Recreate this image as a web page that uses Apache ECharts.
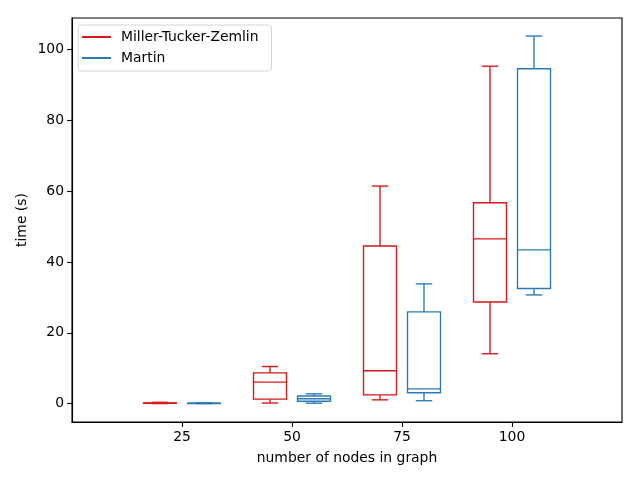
<!DOCTYPE html>
<html>
<head>
<meta charset="utf-8">
<script src="https://cdn.jsdelivr.net/npm/echarts@6/dist/echarts.min.js"></script>
<style>
html,body{margin:0;padding:0;background:#fff;}
#chart{width:640px;height:480px;}
</style>
</head>
<body>
<div id="chart"></div>
<script>
// ---- data ----
const categories = [25, 50, 75, 100];
const seriesNames = ['Miller-Tucker-Zemlin', 'Martin'];
// [lower whisker, Q1, median, Q3, upper whisker]
const mtzStats = [
  [0.05, 0.1, 0.15, 0.25, 0.4],
  [0.2, 1.3, 6.1, 8.7, 10.5],
  [1.1, 2.5, 9.3, 44.5, 61.4],
  [14.1, 28.7, 46.5, 56.7, 95.2]
];
const martinStats = [
  [0.04, 0.08, 0.12, 0.18, 0.3],
  [0.15, 0.7, 1.4, 2.2, 2.8],
  [0.85, 3.1, 4.2, 25.9, 33.8],
  [30.7, 32.5, 43.4, 94.5, 103.7]
];
const xTicks = [25, 50, 75, 100];
const yTicks = [0, 20, 40, 60, 80, 100];

// ---- style ----
const colors = ['#D7191C', '#2C7BB6'];
const offsets = [-5, 5];
const boxWidth = 7.5;
const FONT = 'DejaVu Sans';
const FS = 13.9;

function buildData(stats, offset) {
  return categories.map((c, i) => [c + offset].concat(stats[i]));
}

function renderBox(params, api) {
  const x = api.value(0);
  const pLo = api.coord([x, api.value(1)]);
  const pQ1 = api.coord([x, api.value(2)]);
  const pMed = api.coord([x, api.value(3)]);
  const pQ3 = api.coord([x, api.value(4)]);
  const pHi = api.coord([x, api.value(5)]);
  const halfW = api.size([boxWidth, 0])[0] / 2;
  const capHalf = halfW / 2;
  const cx = pLo[0];
  const color = api.visual('color');
  const style = { stroke: color, fill: null, lineWidth: 1.39 };
  const line = (x1, y1, x2, y2) => ({ type: 'line', shape: { x1, y1, x2, y2 }, style });
  return {
    type: 'group',
    children: [
      line(cx, pQ3[1], cx, pHi[1]),
      line(cx, pQ1[1], cx, pLo[1]),
      line(cx - capHalf, pHi[1], cx + capHalf, pHi[1]),
      line(cx - capHalf, pLo[1], cx + capHalf, pLo[1]),
      { type: 'rect', shape: { x: cx - halfW, y: pQ3[1], width: 2 * halfW, height: pQ1[1] - pQ3[1] }, style },
      line(cx - halfW, pMed[1], cx + halfW, pMed[1])
    ]
  };
}

const chart = echarts.init(document.getElementById('chart'), null, { renderer: 'canvas' });
const option = {
  animation: false,
  backgroundColor: '#fff',
  textStyle: { fontFamily: FONT },
  grid: { left: 72, right: 18, top: 18, bottom: 58, show: true, borderColor: '#000', borderWidth: 1.1, backgroundColor: 'transparent' },
  legend: {
    orient: 'vertical',
    left: 78,
    top: 25,
    padding: [4, 13, 5, 4],
    itemWidth: 29,
    itemHeight: 2,
    itemGap: 5,
    borderColor: '#d6d6d6',
    borderWidth: 1,
    borderRadius: 3,
    backgroundColor: 'rgba(255,255,255,0.8)',
    textStyle: { fontFamily: FONT, fontSize: FS, color: '#000', lineHeight: 16, padding: [0, 0, 0, 5] },
    data: seriesNames.map(n => ({ name: n, icon: 'rect' }))
  },
  xAxis: {
    type: 'value',
    min: 0,
    max: 125,
    interval: 25,
    name: 'number of nodes in graph',
    nameLocation: 'middle',
    nameGap: 29,
    nameTextStyle: { fontFamily: FONT, fontSize: FS, color: '#000' },
    axisLine: { show: true, onZero: false, lineStyle: { color: '#000', width: 1.1 } },
    axisTick: { show: true, length: 4.9, customValues: xTicks, lineStyle: { color: '#000', width: 1.1 } },
    axisLabel: { customValues: xTicks, margin: 8, fontFamily: FONT, fontSize: FS, color: '#000' },
    splitLine: { show: false }
  },
  yAxis: {
    type: 'value',
    min: -5.15,
    max: 108.8,
    name: 'time (s)',
    nameLocation: 'middle',
    nameRotate: 90,
    nameGap: 43,
    nameMoveOverlap: false,
    nameTextStyle: { fontFamily: FONT, fontSize: FS, color: '#000' },
    axisLine: { show: true, onZero: false, lineStyle: { color: '#000', width: 1.1 } },
    axisTick: { show: true, length: 4.9, customValues: yTicks, lineStyle: { color: '#000', width: 1.1 } },
    axisLabel: { customValues: yTicks, margin: 8, fontFamily: FONT, fontSize: FS, color: '#000' },
    splitLine: { show: false }
  },
  series: [
    {
      name: seriesNames[0],
      type: 'custom',
      renderItem: renderBox,
      color: colors[0],
      itemStyle: { color: colors[0] },
      encode: { x: 0, y: [1, 2, 3, 4, 5] },
      data: buildData(mtzStats, offsets[0])
    },
    {
      name: seriesNames[1],
      type: 'custom',
      renderItem: renderBox,
      color: colors[1],
      itemStyle: { color: colors[1] },
      encode: { x: 0, y: [1, 2, 3, 4, 5] },
      data: buildData(martinStats, offsets[1])
    }
  ]
};
chart.setOption(option);
</script>
</body>
</html>
